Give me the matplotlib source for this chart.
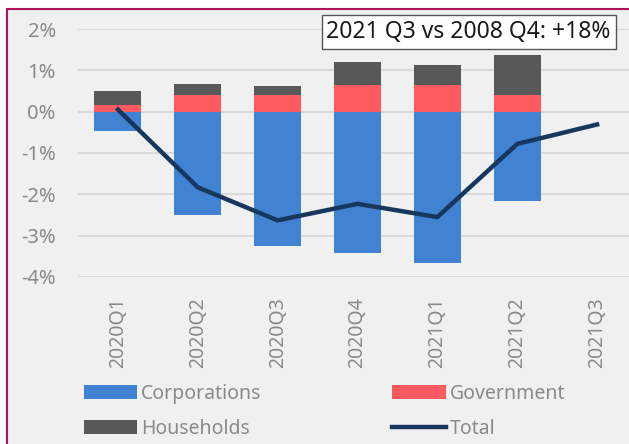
import matplotlib
matplotlib.use("Agg")
import matplotlib.pyplot as plt
from matplotlib.patches import Rectangle
import numpy as np

plt.rcParams['font.family'] = ['Noto Sans', 'DejaVu Sans']

# data (% change)
quarters = ['2020Q1', '2020Q2', '2020Q3', '2020Q4', '2021Q1', '2021Q2', '2021Q3']
corporations = [-0.46, -2.51, -3.26, -3.43, -3.66, -2.15, np.nan]
government = [0.15, 0.40, 0.40, 0.64, 0.65, 0.41, np.nan]
households = [0.36, 0.28, 0.23, 0.56, 0.47, 0.96, np.nan]
total = [0.05, -1.83, -2.63, -2.23, -2.55, -0.78, -0.31]
yticks = [2, 1, 0, -1, -2, -3, -4]

c_corp = '#4282d3'
c_gov = '#ff5a5f'
c_hh = '#585858'
c_tot = '#17375e'
grey = '#8a8a8a'

fig = plt.figure(figsize=(6.29, 4.44), dpi=100)
fig.patch.set_facecolor('white')
# panel background with coloured frame
fig.patches.append(Rectangle((7 / 629, -0.05), 1.1, (444 - 9.5) / 444 + 0.05,
                             transform=fig.transFigure, facecolor='#f0f0f0',
                             edgecolor='#b0125a', linewidth=1.5, zorder=-5))

ax = fig.add_axes([78 / 629, (444 - 277) / 444, 559 / 629, 248 / 444])
ax.set_facecolor('none')
ax.set_zorder(2)

x = np.arange(len(quarters))
w = 0.59
ax.bar(x, corporations, w, color=c_corp, label='Corporations', zorder=2)
ax.bar(x, government, w, color=c_gov, label='Government', zorder=2)
ax.bar(x, households, w, bottom=government, color=c_hh, label='Households', zorder=2)
ax.plot(x, total, color=c_tot, lw=3.2, label='Total', zorder=3)

ax.set_xlim(-0.5, 6.5)
ax.set_ylim(-4, 2)
ax.set_yticks(yticks)
ax.set_yticklabels([f'{v}%' for v in yticks])
ax.set_xticks(x)
ax.set_xticklabels(quarters, rotation=90)
ax.grid(axis='y', color='#d9d9d9', lw=1.5, zorder=1)
ax.set_axisbelow(True)
for s in ax.spines.values():
    s.set_visible(False)
ax.tick_params(axis='both', length=0, colors=grey, labelsize=14.5)
ax.tick_params(axis='y', pad=16)
ax.tick_params(axis='x', pad=14.5)
for lab in ax.get_xticklabels():
    lab.set_fontsize(14)
    lab.set_fontweight('light')

fig.text(0.519, 0.928, '2021 Q3 vs 2008 Q4: +18%', fontsize=16.5, color='#1a1a1a',
         ha='left', va='center', zorder=5,
         bbox=dict(facecolor='white', edgecolor='#555555', lw=1, pad=3.5))

h, l = ax.get_legend_handles_labels()
order = [l.index('Corporations'), l.index('Households'), l.index('Government'), l.index('Total')]
fig.legend([h[i] for i in order], [l[i] for i in order], ncol=2,
           loc='upper left', bbox_to_anchor=(66 / 629, 1 - 366 / 444),
           frameon=False, fontsize=14, labelcolor=grey,
           handlelength=2.75, handleheight=0.75, handletextpad=0.2,
           columnspacing=6.75, labelspacing=0.78)

fig.savefig('out.png', dpi=100)
